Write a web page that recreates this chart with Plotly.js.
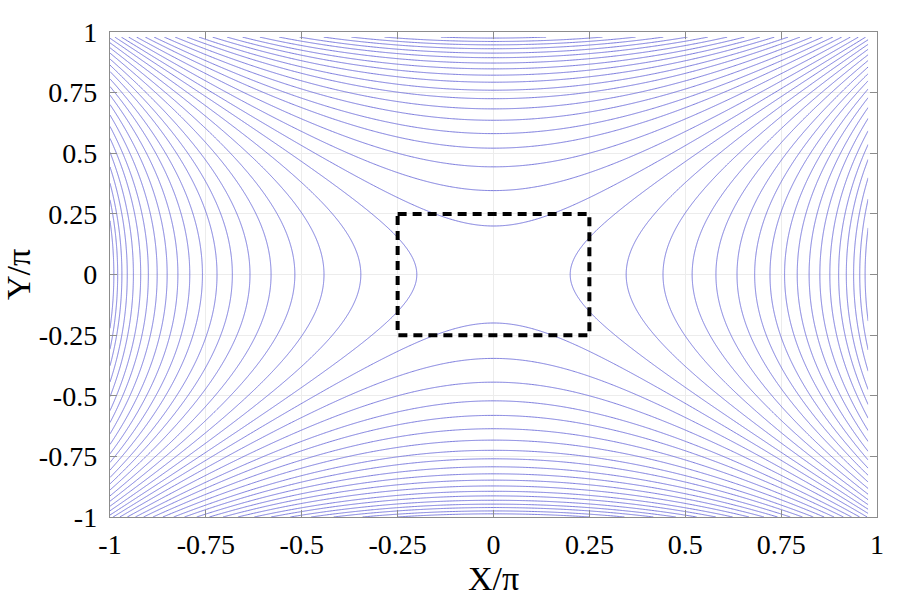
<!DOCTYPE html>
<html>
<head>
<meta charset="utf-8">
<script src="https://cdn.plot.ly/plotly-3.0.1.min.js"></script>
<style>
  html, body { margin: 0; padding: 0; background: #fff; }
  #chart { width: 903px; height: 604px; }
</style>
</head>
<body>
<div id="chart"></div>
<script>
// where each contour line cuts the X axis (Y = 0), in units of pi
const crossX = [0.2, 0.346, 0.442, 0.518, 0.58, 0.635, 0.681, 0.721, 0.759, 0.792,
                0.823, 0.851, 0.877, 0.9, 0.92, 0.939, 0.955, 0.969, 0.98, 0.99];
// where each contour line cuts the Y axis (X = 0)
const crossY = [0.2, 0.346, 0.444, 0.521, 0.581, 0.636, 0.683, 0.725, 0.76, 0.793,
                0.822, 0.848, 0.872, 0.894, 0.913, 0.931, 0.947, 0.961, 0.975, 0.987];
// dashed square
const boxX = [-0.25, 0.25, 0.25, -0.25, -0.25];
const boxY = [0.25, 0.25, -0.25, -0.25, 0.25];
// axis ticks
const tickVals = [-1, -0.75, -0.5, -0.25, 0, 0.25, 0.5, 0.75, 1];
const tickText = ['-1', '-0.75', '-0.5', '-0.25', '0', '0.25', '0.5', '0.75', '1'];

const lineColor = 'rgb(100,100,215)';

// saddle surface, separable in X and Y
function g(u) {
    const t = Math.tan(Math.PI * u / 4);
    return t * t;
}

// sample grid (the original grid stops one step short of +1)
const n = 260;
const xs = [], ys = [];
for (let i = 0; i < n; i++) {
    xs.push(-1 + i * 1.977 / (n - 1));
    ys.push(-1 + i * 1.979 / (n - 1));
}
const z = ys.map(y => xs.map(x => g(x) - g(y)));

function levelTrace(level) {
    return {
        type: 'contour', x: xs, y: ys, z: z,
        autocontour: false,
        contours: { start: level, end: level, size: 1, coloring: 'none', showlabels: false },
        line: { color: lineColor, width: 0.85, smoothing: 0 },
        showscale: false, hoverinfo: 'skip'
    };
}

const traces = [];
crossX.forEach(c => traces.push(levelTrace(g(c))));
crossY.forEach(c => traces.push(levelTrace(-g(c))));

traces.push({
    type: 'scatter', mode: 'lines', x: boxX, y: boxY,
    line: { color: '#000', width: 4, dash: '9px,6px' },
    hoverinfo: 'skip', showlegend: false
});

const serif = 'Liberation Serif, Times New Roman, serif';
const axisCommon = {
    range: [-1, 1],
    tickmode: 'array', tickvals: tickVals, ticktext: tickText,
    ticks: 'inside', ticklen: 7, tickcolor: '#8c8c8c', tickwidth: 1,
    showline: true, linecolor: '#8c8c8c', linewidth: 1.2, mirror: 'ticks',
    showgrid: true, gridcolor: '#ececec', gridwidth: 1,
    zeroline: false,
    tickfont: { family: serif, size: 28, color: '#000' }
};

const layout = {
    width: 903, height: 604,
    margin: { l: 110, r: 26, t: 32, b: 87 },
    paper_bgcolor: '#fff', plot_bgcolor: '#fff',
    showlegend: false,
    xaxis: Object.assign({}, axisCommon, {
        ticklabelstandoff: 2,
        title: { text: 'X/π', font: { family: serif, size: 34, color: '#000' }, standoff: 0 }
    }),
    yaxis: Object.assign({}, axisCommon, {
        ticklabelstandoff: 6,
        title: { text: 'Y/π', font: { family: serif, size: 34, color: '#000' }, standoff: 0 }
    })
};

Plotly.newPlot('chart', traces, layout, { displayModeBar: false, staticPlot: true });
</script>
</body>
</html>
